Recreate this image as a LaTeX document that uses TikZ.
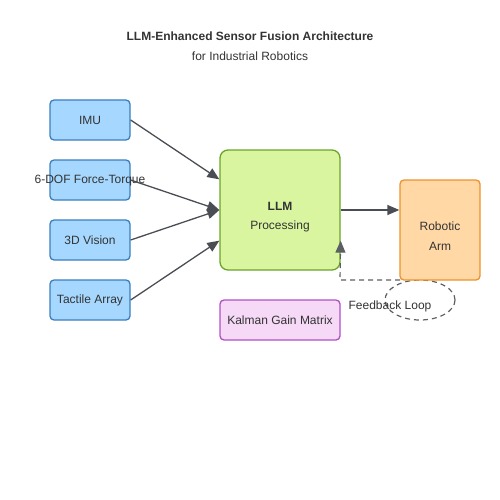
\documentclass[tikz,border=0pt]{standalone}
\usepackage{fontspec}
\setmainfont{Liberation Sans}
\usepackage{tikz}
\usetikzlibrary{calc,arrows.meta}

\definecolor{sensfill}{HTML}{A6D8FF}
\definecolor{sensline}{HTML}{3B7EC0}
\definecolor{llmfill}{HTML}{D9F5A0}
\definecolor{llmline}{HTML}{6AA52A}
\definecolor{armfill}{HTML}{FFD8A6}
\definecolor{armline}{HTML}{EE922C}
\definecolor{kalfill}{HTML}{F5D9F7}
\definecolor{kalline}{HTML}{B050C4}
\definecolor{wire}{HTML}{4A4E54}
\definecolor{ink}{HTML}{333333}

\tikzset{
  sensor/.style={draw=sensline,fill=sensfill,line width=1.3pt,rounded corners=4pt,
    minimum width=80pt,minimum height=40pt,inner sep=0pt,font=\fontsize{12}{14}\selectfont,text=ink},
  flow/.style={draw=wire,line width=1.3pt,-{Triangle[length=12pt,width=10pt]}},
  fback/.style={draw=wire!90,line width=1.2pt,dash pattern=on 5pt off 4pt}
}

\begin{document}
\begin{tikzpicture}[x=1pt,y=-1pt]
          \useasboundingbox (0,0) rectangle (500,500);
          \node[font=\bfseries\fontsize{12}{14}\selectfont,text=ink] (T0) at %
          (250,36) {LLM-Enhanced Sensor Fusion Architecture};
          \node[font=\fontsize{12}{14}\selectfont,text=ink] (T1) at %
          (250,56) {for Industrial Robotics};
          % sensors
          \node[sensor] (S0) at (90,120) {IMU};
          \node[sensor] (S1) at (90,180) {};
          \node[font=\fontsize{12}{14}\selectfont,text=ink] (L1) at %
          (90,181) {6-DOF Force-Torque};
          \node[sensor] (S2) at (90,240) {3D Vision};
          \node[sensor] (S3) at (90,300) {Tactile Array};
          % fusion core
          \node[draw=llmline,fill=llmfill,line width=1.3pt,rounded corners=8pt,%
            minimum width=120pt,minimum height=120pt] (C) at (280,210) {};
          \node[font=\bfseries\fontsize{12}{14}\selectfont,text=ink] (C0) at %
          (280,206) {LLM};
          \node[font=\fontsize{12}{14}\selectfont,text=ink] (C1) at %
          (280,226) {Processing};
          \node[draw=kalline,fill=kalfill,line width=1.3pt,rounded corners=4pt,%
            minimum width=120pt,minimum height=40pt,inner sep=0pt,%
            font=\fontsize{12}{14}\selectfont,text=ink] (K) at (280,320) %
          {Kalman Gain Matrix};
          % feedback loop behind the arm
          \draw[fback] (420,300) ellipse (35 and 20);
          \node[draw=armline,fill=armfill,line width=1.3pt,rounded corners=4pt,%
            minimum width=80pt,minimum height=100pt] (A) at (440,230) {};
          \node[font=\fontsize{12}{14}\selectfont,text=ink] (A0) at %
          (440,226) {Robotic};
          \node[font=\fontsize{12}{14}\selectfont,text=ink] (A1) at %
          (440,246) {Arm};
          \coordinate (F0) at (400,280);
          \coordinate (F1) at (340,280);
          \draw[fback,-{Triangle[length=12pt,width=10pt]}] (F0) -- (F1) -- %
          ($(C.south east)+(0,-30)$);
          \node[font=\fontsize{12}{14}\selectfont,text=ink] (FL) at %
          (390,306) {Feedback Loop};
          % connectors
          \draw[flow] (S0.east) -- ($(C.north west)+(0,30)$);
          \draw[flow] (S1.east) -- (C.west);
          \draw[flow] (S2.east) -- (C.west);
          \draw[flow] (S3.east) -- ($(C.south west)+(0,-30)$);
          \draw[flow] (C.east) -- (A.west |- C.east);
        \end{tikzpicture}
\end{document}
